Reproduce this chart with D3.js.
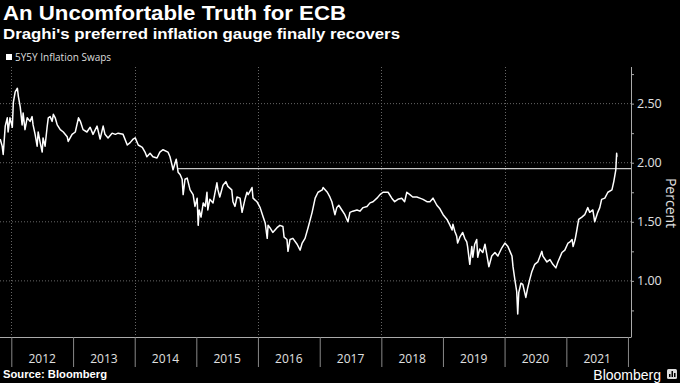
<!DOCTYPE html>
<html>
<head>
<meta charset="utf-8">
<script src="https://cdn.jsdelivr.net/npm/d3@7"></script>
<style>
  html, body { margin: 0; padding: 0; background: #000; }
  svg { display: block; }
</style>
</head>
<body>
<svg id="chart" width="680" height="383"></svg>
<script>
// ---------------- DATA ----------------
const title = "An Uncomfortable Truth for ECB";
const subtitle = "Draghi's preferred inflation gauge finally recovers";
const seriesName = "5Y5Y Inflation Swaps";
const source = "Source: Bloomberg";
const axisTitle = "Percent";

const dates = [
  "2011-10-27","2011-11-08","2011-11-14","2011-11-26","2011-12-08","2011-12-13","2011-12-24",
  "2012-01-07","2012-01-13","2012-01-24","2012-02-06","2012-02-12","2012-02-23","2012-03-05","2012-03-11","2012-03-22",
  "2012-04-04","2012-04-21","2012-05-03","2012-05-09","2012-05-21","2012-06-02","2012-06-08","2012-06-20","2012-07-02",
  "2012-07-07","2012-07-19","2012-07-31","2012-08-07","2012-08-18","2012-08-30","2012-09-06","2012-09-17","2012-09-29",
  "2012-10-17","2012-11-04","2012-11-27","2012-12-03","2012-12-26",
  "2013-01-14","2013-02-02","2013-02-13","2013-03-01","2013-03-24","2013-04-12","2013-04-29","2013-05-23","2013-06-10",
  "2013-06-28","2013-07-09","2013-07-27","2013-08-20","2013-09-08","2013-09-25","2013-10-24","2013-11-18","2013-12-05","2013-12-23",
  "2014-01-04","2014-01-22","2014-02-15","2014-03-03","2014-03-14","2014-04-02","2014-04-19","2014-05-13","2014-05-30",
  "2014-06-18","2014-07-17","2014-07-29","2014-08-10","2014-08-16","2014-09-04","2014-09-15","2014-09-27","2014-10-09",
  "2014-10-15","2014-10-26","2014-11-08","2014-11-25","2014-12-13","2014-12-24",
  "2015-01-06","2015-01-12","2015-01-18","2015-01-29","2015-02-11","2015-02-23","2015-03-05","2015-03-10","2015-03-22",
  "2015-04-10","2015-05-03","2015-05-09","2015-05-20","2015-06-08","2015-06-25","2015-07-07","2015-07-30","2015-08-06",
  "2015-08-18","2015-08-30","2015-09-17","2015-09-29","2015-10-16","2015-10-28","2015-11-04","2015-11-27","2015-12-03","2015-12-26",
  "2016-01-14","2016-02-01","2016-02-13","2016-02-25","2016-03-01","2016-03-12","2016-03-29","2016-04-23","2016-05-10",
  "2016-05-28","2016-06-04","2016-06-21","2016-06-27","2016-07-09","2016-07-26","2016-08-20","2016-09-07","2016-09-19",
  "2016-10-06","2016-10-24","2016-11-17","2016-12-05","2016-12-22",
  "2017-01-16","2017-01-21","2017-02-15","2017-03-02","2017-03-14","2017-04-01","2017-04-12","2017-04-24","2017-05-12",
  "2017-05-30","2017-06-17","2017-06-29","2017-07-16","2017-08-10","2017-08-27","2017-09-15","2017-10-08","2017-10-26",
  "2017-11-13","2017-12-06","2017-12-24",
  "2018-01-11","2018-01-29","2018-02-10","2018-03-04","2018-03-21","2018-04-09","2018-05-02","2018-05-19","2018-06-01",
  "2018-06-19","2018-07-06","2018-07-30","2018-08-17","2018-09-05","2018-09-28","2018-10-16","2018-11-03","2018-11-26","2018-12-14",
  "2019-01-02","2019-01-25","2019-02-12","2019-02-24","2019-03-01","2019-03-12","2019-03-23","2019-03-29","2019-04-11",
  "2019-04-28","2019-05-10","2019-05-22","2019-05-27","2019-06-09","2019-06-21","2019-06-27","2019-07-08","2019-07-20",
  "2019-07-26","2019-08-07","2019-08-25","2019-09-07","2019-09-18","2019-09-30","2019-10-17","2019-11-05","2019-11-22","2019-12-16",
  "2020-01-03","2020-01-21","2020-02-14","2020-02-20","2020-03-02","2020-03-13","2020-03-19","2020-03-25","2020-04-07",
  "2020-04-18","2020-05-06","2020-05-17","2020-05-29","2020-06-11","2020-06-28","2020-07-16","2020-08-09","2020-08-15",
  "2020-09-08","2020-09-26","2020-10-13","2020-10-31","2020-11-12","2020-12-06","2020-12-23",
  "2021-01-11","2021-01-23","2021-02-04","2021-02-10","2021-02-22","2021-03-03","2021-03-15","2021-04-03","2021-04-20",
  "2021-05-08","2021-05-19","2021-06-07","2021-06-18","2021-07-06","2021-07-18","2021-07-29","2021-08-17","2021-09-04",
  "2021-09-28","2021-10-09","2021-10-21","2021-10-26","2021-10-28"
];

const values = [
  2.20,2.14,2.07,2.31,2.38,2.26,2.38,
  2.30,2.51,2.60,2.63,2.56,2.47,2.32,2.42,2.28,
  2.38,2.35,2.39,2.32,2.24,2.14,2.26,2.17,2.09,
  2.21,2.14,2.30,2.38,2.39,2.35,2.41,2.38,2.32,
  2.28,2.26,2.22,2.18,2.24,
  2.26,2.38,2.35,2.28,2.26,2.30,2.24,2.31,2.20,
  2.31,2.24,2.21,2.25,2.24,2.25,2.24,2.15,2.17,2.20,
  2.21,2.15,2.13,2.09,2.05,2.08,2.05,2.04,2.09,
  2.11,2.09,2.05,1.98,1.94,2.03,1.92,1.90,1.86,
  1.73,1.86,1.87,1.77,1.73,1.63,
  1.70,1.47,1.60,1.54,1.66,1.63,1.75,1.60,1.69,
  1.66,1.83,1.77,1.71,1.81,1.84,1.80,1.77,1.67,
  1.63,1.71,1.70,1.58,1.69,1.75,1.73,1.79,1.70,1.67,
  1.62,1.54,1.49,1.36,1.47,1.45,1.41,1.45,1.47,
  1.46,1.37,1.35,1.25,1.35,1.36,1.31,1.26,1.32,
  1.36,1.45,1.58,1.70,1.75,
  1.77,1.79,1.75,1.71,1.67,1.56,1.62,1.64,1.60,
  1.56,1.50,1.58,1.59,1.60,1.59,1.62,1.63,1.66,
  1.67,1.70,1.73,
  1.75,1.75,1.75,1.70,1.67,1.69,1.70,1.67,1.75,
  1.73,1.71,1.71,1.70,1.69,1.67,1.67,1.70,1.64,1.61,
  1.56,1.52,1.47,1.43,1.48,1.42,1.38,1.32,1.37,
  1.41,1.36,1.33,1.29,1.14,1.29,1.20,1.31,1.35,
  1.20,1.27,1.24,1.31,1.22,1.12,1.21,1.24,1.21,1.28,
  1.32,1.29,1.21,1.12,1.01,0.91,0.72,0.90,0.98,
  0.97,0.86,0.94,1.01,1.08,1.14,1.16,1.25,1.21,
  1.16,1.18,1.14,1.11,1.16,1.24,1.26,
  1.32,1.33,1.35,1.29,1.35,1.42,1.52,1.54,1.56,
  1.62,1.58,1.60,1.50,1.58,1.62,1.69,1.70,1.75,
  1.77,1.84,1.94,2.08,2.05
];

const refValue = 1.95;          // horizontal reference line
const refStart = "2014-09-15";
const yTickValues = [1.00, 1.50, 2.00, 2.50];
const yMinorTicks = [0.75, 1.25, 1.75, 2.25, 2.75];
const yearLabels = ["2012","2013","2014","2015","2016","2017","2018","2019","2020","2021"];
const yearBounds = ["2012","2013","2014","2015","2016","2017","2018","2019","2020","2021","2022"];
const gridYears = ["2012","2014","2016","2018","2020"];

// ---------------- CHART ----------------
const parse = d3.timeParse("%Y-%m-%d");
const parseY = d3.timeParse("%Y");
const data = dates.map((d, i) => ({ date: parse(d), value: values[i] }));

const svg = d3.select("#chart");
const plotLeft = 0, plotRight = 631, plotTop = 67, plotBottom = 337;
const boldFont = "Liberation Sans, Arial, sans-serif";
const lightFont = "Open Sans, sans-serif";

const x = d3.scaleTime()
  .domain([parse("2011-10-26"), parse("2022-01-19")])
  .range([plotLeft, plotRight]);
const y = d3.scaleLinear().domain([0.525, 2.81]).range([plotBottom, plotTop]);

svg.append("rect").attr("width", 680).attr("height", 383).attr("fill", "#000");

// Titles
svg.append("text").attr("x", 3).attr("y", 20)
  .attr("font-family", boldFont).attr("font-weight", 700).attr("font-size", 21)
  .attr("textLength", 343).attr("lengthAdjust", "spacingAndGlyphs")
  .attr("fill", "#fff").text(title);
svg.append("text").attr("x", 3).attr("y", 39)
  .attr("font-family", boldFont).attr("font-weight", 700).attr("font-size", 15)
  .attr("textLength", 397).attr("lengthAdjust", "spacingAndGlyphs")
  .attr("fill", "#fff").text(subtitle);

// Legend
svg.append("rect").attr("x", 6).attr("y", 54).attr("width", 6).attr("height", 6).attr("fill", "#fff");
svg.append("text").attr("x", 15).attr("y", 61)
  .attr("font-family", lightFont).attr("font-size", 10)
  .attr("fill", "#ddd").text(seriesName);

// Gridlines
svg.append("g").selectAll("line").data(yTickValues).join("line")
  .attr("x1", plotLeft).attr("x2", plotRight)
  .attr("y1", d => y(d)).attr("y2", d => y(d))
  .attr("stroke", "#666").attr("stroke-width", 1).attr("stroke-dasharray", "1,2");
svg.append("g").selectAll("line").data(gridYears).join("line")
  .attr("x1", d => Math.round(x(parseY(d))) + 0.5).attr("x2", d => Math.round(x(parseY(d))) + 0.5)
  .attr("y1", plotTop).attr("y2", plotBottom)
  .attr("stroke", "#666").attr("stroke-width", 1).attr("stroke-dasharray", "1,2");

// Reference line
svg.append("line")
  .attr("x1", x(parse(refStart))).attr("x2", plotRight)
  .attr("y1", y(refValue)).attr("y2", y(refValue))
  .attr("stroke", "#c8c8c8").attr("stroke-width", 1.2);

// Series line
const line = d3.line().x(d => x(d.date)).y(d => y(d.value));
svg.append("path").datum(data)
  .attr("d", line).attr("fill", "none")
  .attr("stroke", "#fff").attr("stroke-width", 1.5).attr("stroke-linejoin", "round");

// Right axis
const yAxis = d3.axisRight(y).tickValues(yTickValues).tickFormat(d3.format(".2f"))
  .tickSize(3).tickSizeOuter(0).tickPadding(3);
const ya = svg.append("g").attr("transform", `translate(${plotRight},0)`).call(yAxis);
ya.select(".domain").attr("stroke", "#aaa").attr("d", `M0.5,${plotTop}V${plotBottom}`);
ya.selectAll(".tick line").attr("stroke", "#aaa");
ya.selectAll(".tick text").attr("fill", "#e0e0e0")
  .attr("font-family", lightFont).attr("font-size", 12.5);
const yMinor = d3.axisRight(y).tickValues(yMinorTicks).tickSize(3).tickFormat("");
const ym = svg.append("g").attr("transform", `translate(${plotRight},0)`).call(yMinor);
ym.select(".domain").remove();
ym.selectAll(".tick line").attr("stroke", "#aaa");

// Axis title
svg.append("text")
  .attr("transform", `translate(666,203) rotate(90)`)
  .attr("text-anchor", "middle")
  .attr("font-family", lightFont).attr("font-size", 14)
  .attr("fill", "#e0e0e0").text(axisTitle);

// Bottom axis
svg.append("line").attr("x1", plotLeft).attr("x2", plotRight + 0.5)
  .attr("y1", plotBottom + 0.5).attr("y2", plotBottom + 0.5)
  .attr("stroke", "#aaa").attr("stroke-width", 1);
const xAxis = d3.axisBottom(x).tickValues(yearBounds.map(parseY)).tickSize(30).tickSizeOuter(0).tickFormat("");
const xa = svg.append("g").attr("transform", `translate(0,${plotBottom})`).call(xAxis);
xa.select(".domain").remove();
xa.selectAll(".tick line").attr("stroke", "#888");

svg.append("g").selectAll("text").data(yearLabels).join("text")
  .attr("x", d => (x(parseY(d)) + x(parseY(String(+d + 1)))) / 2)
  .attr("y", 363)
  .attr("text-anchor", "middle")
  .attr("font-family", lightFont).attr("font-size", 12)
  .attr("fill", "#e0e0e0").text(d => d);

// Footer
svg.append("text").attr("x", 3).attr("y", 378)
  .attr("font-family", boldFont).attr("font-weight", 700).attr("font-size", 11)
  .attr("textLength", 104).attr("lengthAdjust", "spacingAndGlyphs")
  .attr("fill", "#fff").text(source);
svg.append("text").attr("x", 661).attr("y", 380).attr("text-anchor", "end")
  .attr("font-family", boldFont).attr("font-size", 14)
  .attr("fill", "#fff").text("Bloomberg");
const logo = svg.append("g").attr("transform", "translate(667,369)");
logo.append("rect").attr("width", 10).attr("height", 10).attr("rx", 1.5).attr("fill", "#ddd");
logo.append("rect").attr("x", 2).attr("y", 5).attr("width", 1.5).attr("height", 3).attr("fill", "#000");
logo.append("rect").attr("x", 4.5).attr("y", 2).attr("width", 1.5).attr("height", 6).attr("fill", "#000");
logo.append("rect").attr("x", 7).attr("y", 4).attr("width", 1.5).attr("height", 4).attr("fill", "#000");
</script>
</body>
</html>
